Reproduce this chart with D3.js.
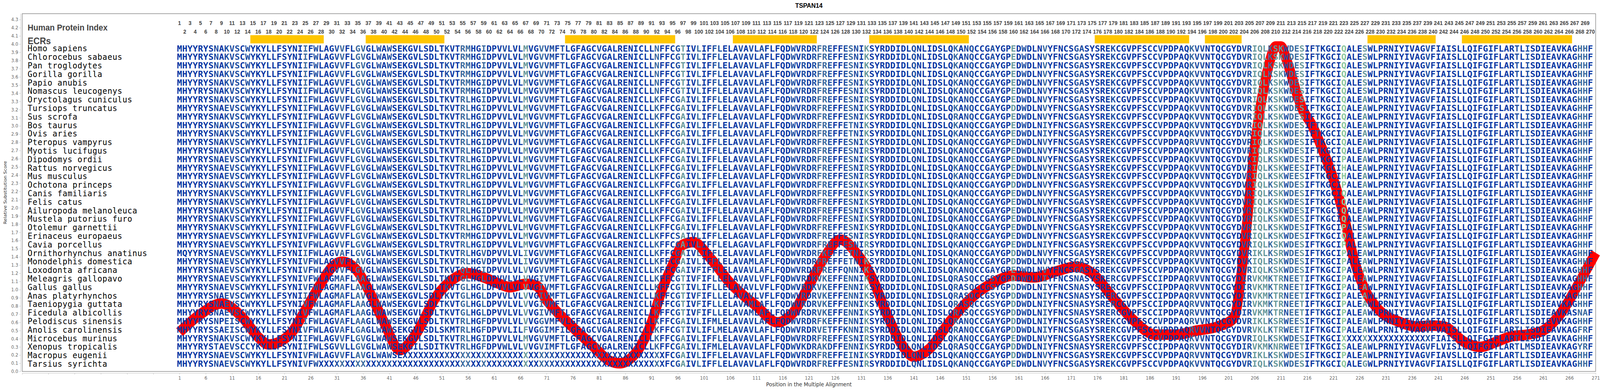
<!DOCTYPE html>
<html>
<head>
<meta charset="utf-8">
<script src="https://cdn.jsdelivr.net/npm/d3@7"></script>
<style>
    html, body { margin: 0; padding: 0; background: #ffffff; overflow: hidden; }
</style>
</head>
<body>
<div id="chart-container"></div>
<script>
/*
    TSPAN14 substitution score over the multiple alignment
 */

var species_names = [
    "Homo sapiens", "Chlorocebus sabaeus", "Pan troglodytes", "Gorilla gorilla",
    "Papio anubis", "Nomascus leucogenys", "Oryctolagus cuniculus", "Tursiops truncatus",
    "Sus scrofa", "Bos taurus", "Ovis aries", "Pteropus vampyrus", "Myotis lucifugus",
    "Dipodomys ordii", "Rattus norvegicus", "Mus musculus", "Ochotona princeps",
    "Canis familiaris", "Felis catus", "Ailuropoda melanoleuca", "Mustela putorius furo",
    "Otolemur garnettii", "Erinaceus europaeus", "Cavia porcellus", "Ornithorhynchus anatinus",
    "Monodelphis domestica", "Loxodonta africana", "Meleagris gallopavo", "Gallus gallus",
    "Anas platyrhynchos", "Taeniopygia guttata", "Ficedula albicollis", "Pelodiscus sinensis",
    "Anolis carolinensis", "Microcebus murinus", "Xenopus tropicalis", "Macropus eugenii",
    "Tarsius syrichta"
];

// human sequence, 10 residues per chunk
var reference_seq = [
    "MHYYRYSNAK", "VSCWYKYLLF", "SYNIIFWLAG", "VVFLGVGLWA", "WSEKGVLSDL",
    "TKVTRMHGID", "PVVLVLMVGV", "VMFTLGFAGC", "VGALRENICL", "LNFFCGTIVL",
    "IFFLELAVAV", "LAFLFQDWVR", "DRFREFFESN", "IKSYRDDIDL", "QNLIDSLQKA",
    "NQCCGAYGPE", "DWDLNVYFNC", "SGASYSREKC", "GVPFSCCVPD", "PAQKVVNTQC",
    "GYDVRIQLKS", "KWDESIFTKG", "CIQALESWLP", "RNIYIVAGVF", "IAISLLQIFG",
    "IFLARTLISD", "IEAVKAGHHF"
].join("");

// differences from the human row: "posLetter" or "from-toLetter"
var bird_edits = "10E 25V 31M 32A 35A 36A 55G 56L 59L 67V 70I 92K 103L 112V 122K 123V 124K 129N 149R 151S 156S 160D 166I 172N 179R 188I 194R 204I 206V 207K 208M 210T 211R 212N 213E 215T 223P 227A";
var species_edits = [
    "", "", "", "", "", "",
    "56L 92K 97A 132R 227A",
    "10E 56L 92K 97A 160D 227A",
    "56L 92K 97A 149R 227A",
    "56L 92K 97A 129T 166I 227A",
    "56L 92K 97A 129T 166I 227A",
    "56L 92K 97A 194R 227A",
    "25V 56L 92K 97A 132R 209R 227A",
    "10E 56L 92K 97A 205K 223P 227A",
    "10E 56L 92K 97A 132R 213E 223H 227A",
    "10E 56L 92K 97A 132R 213E 223H 227A",
    "56L 92K 97A 160D 223P 227A",
    "56L 92K 97A 227A",
    "56L 92K 97A 227A",
    "56L 92K 97A 227A",
    "56L 92K 97A 227A",
    "56L 92K 97A 223P",
    "10E 25V 92K 96S 97A 108G 132R 149R 227A",
    "10E 25V 52R 56L 92K 97A 108G 132R 166I 223P 227A",
    "2Q 10E 32A 56L 59V 67I 92K 97A 124K 129T 132R 160D 194R 207K 211R 223P 227A",
    "10E 25V 35A 56L 59V 67I 92K 97A 110M 129T 160D 205K 209R 223P 227A",
    "10E 25V 55Q 56L 67V 92K 97A 100F 128Q 129N 223P 227A",
    bird_edits + " 100F",
    bird_edits,
    bird_edits + " 25I 36V 100F 122R",
    bird_edits + " 100F 110M 122R 112A",
    bird_edits + " 100F 110M 122R 112A 267S 268N 269A",
    "9P 10E 11I 32A 35A 36A 56L 59F 67V 70G 74V 81I 92K 97A 103M 124K 129N 149R 160D 166I 194R 207K 211R 213E 223P 227A 239A 256S 263V",
    "8S 10E 11I 25V 32A 36A 51S 53M 56L 59F 65I 67F 70G 71I 74I 92K 103L 104M 123V 124E 125T 128K 129N 132R 149R 160D 166I 179R 194R 206V 207K 210T 211R 213E 215T 223P 227A 241V 268F 269R",
    "56L 92K 97A 132R 223-239X",
    "8T 10E 14C 29S 33L 46I 50I 56L 59F 63W 67V 71I 92K 97A 103M 120K 123A 124K 125D 129N 149R 151S 160D 166I 172N 179R 188I 194R 204I 206V 207K 208M 210N 211R 213E 215T 223S 227A 241L 242V 245I 252Y 258M 268Y 269R",
    "10E 25V 35A 44-93X 97A 129I 160D 194R 207K 223P 227A 243V",
    "10E 25V 28-93X 97A 132R 227G"
];

// conservation class of each alignment column (0 = conserved ... 4 = most variable)
var column_level = [
    "0000000101", "1101000000", "0000201000", "1200220010", "1000000000",
    "0100220020", "0010003002", "1101000000", "1000000000", "0200013002",
    "0011000101", "0100000101", "0122100121", "0300000000", "1000000020",
    "1100010003", "0100020000", "0110000010", "0000000100", "0002110000",
    "0001133323", "3122300100", "0040003000", "0000000010", "0000000000",
    "0000010100", "0000000220"
].join("");

var ecr_ranges = [
    [15, 28], [37, 51], [75, 95], [107, 122], [133, 151],
    [176, 193], [197, 203], [228, 240], [246, 266]
];

var score_positions = [
    1, 5, 9, 13, 16, 18, 22, 25, 28, 30, 32, 35, 37, 40, 43, 46, 50, 53, 56, 59,
    62, 64, 67, 69, 71, 75, 80, 83, 85, 87, 89, 91, 93, 95, 97, 99, 102, 106, 111, 115,
    118, 121, 124, 127, 130, 133, 136, 139, 141, 144, 148, 152, 156, 160, 164, 168, 172, 175, 179, 183,
    187, 191, 195, 199, 202, 204, 206, 207, 208, 209, 210, 211, 212, 213, 214, 215, 217, 219, 221, 223,
    225, 227, 229, 231, 233, 237, 240, 242, 246, 249, 252, 255, 258, 261, 264, 268, 271
];
var score_values = [
    0.48, 0.70, 0.83, 0.66, 0.42, 0.33, 0.45, 0.75, 1.08, 1.27, 1.34, 1.22, 1.00, 0.60, 0.26, 0.45, 0.92, 1.12, 1.20, 1.15,
    1.07, 1.03, 1.07, 1.05, 0.87, 0.60, 0.30, 0.13, 0.10, 0.16, 0.32, 0.60, 1.00, 1.30, 1.55, 1.58, 1.40, 1.08, 0.80, 0.60,
    0.72, 1.05, 1.40, 1.61, 1.45, 1.15, 0.68, 0.30, 0.18, 0.28, 0.62, 0.90, 1.08, 1.17, 1.15, 1.22, 1.28, 1.20, 0.90, 0.62,
    0.45, 0.45, 0.50, 0.55, 0.65, 1.50, 2.75, 3.20, 3.55, 3.82, 3.97, 3.97, 3.82, 3.62, 3.40, 3.22, 3.00, 2.70, 2.35, 1.90,
    1.35, 1.00, 0.80, 0.68, 0.62, 0.55, 0.56, 0.55, 0.36, 0.30, 0.36, 0.43, 0.45, 0.50, 0.68, 1.10, 1.45
];

var level_colors = ["#0535a3", "#1c4ea2", "#3a6a9e", "#67989b", "#8ac69b"];

var svg_size = {
    'width': 4403,
    'height': 1000
};

var plot_box = {
    'left': 61,
    'right': 4391,
    'top': 35,
    'bottom': 950
};

// the drawing is laid out in a 4403x1000 box and stretched to the window
var svg = d3.select("#chart-container")
    .append("svg")
    .attr('viewBox', '0 0 ' + svg_size.width + ' ' + svg_size.height)
    .attr('preserveAspectRatio', 'none')
    .style('width', '100vw')
    .style('height', '100vh')
    .style('display', 'block');

var x_scale = d3.scaleLinear()
    .domain([-29, 271])
    .range([plot_box.left, plot_box.right]);

var y_scale = d3.scaleLinear()
    .domain([0, 4.3])
    .range([950, 50]);

var row_scale = d3.scaleLinear()
    .domain([0, species_names.length - 1])
    .range([131.5, 938]);

// axes
var x_axis = d3.axisBottom(x_scale)
    .tickValues(d3.range(-29, 272, 5))
    .tickFormat(function(d){ return d >= 1 ? d : ""; })
    .tickSize(4)
    .tickSizeOuter(0)
    .tickPadding(4);

var x_axis_group = svg.append("g")
    .attr('transform', 'translate(0,' + (plot_box.bottom + 4) + ')')
    .call(x_axis);

var y_axis = d3.axisLeft(y_scale)
    .tickValues(d3.range(0, 44).map(function(i){ return i / 10; }))
    .tickFormat(d3.format(".1f"))
    .tickSize(4)
    .tickSizeOuter(0)
    .tickPadding(3);

var y_axis_group = svg.append("g")
    .attr('transform', 'translate(' + (plot_box.left - 4) + ',0)')
    .call(y_axis);

[x_axis_group, y_axis_group].forEach(function(g){
    g.selectAll('path, line').style('stroke', '#c0c0c0');
    g.selectAll('text')
        .style('fill', '#666')
        .style('font-family', '"DejaVu Sans", sans-serif')
        .style('font-size', '12px');
});
y_axis_group.select('.domain').attr('d', 'M0,' + plot_box.top + 'V' + plot_box.bottom);

svg.append('rect')
    .attr('x', plot_box.left)
    .attr('y', plot_box.top)
    .attr('width', plot_box.right - plot_box.left)
    .attr('height', plot_box.bottom - plot_box.top)
    .style('fill', 'none')
    .style('stroke', '#8a8a8a')
    .style('stroke-width', '1.5px');

// titles
svg.append('text')
    .attr('x', (plot_box.left + plot_box.right) / 2)
    .attr('y', 20)
    .attr('text-anchor', 'middle')
    .style('font-family', '"Liberation Sans", Arial, sans-serif')
    .style('font-weight', 'bold')
    .style('font-size', '17px')
    .text('TSPAN14');

svg.append('text')
    .attr('x', (plot_box.left + plot_box.right) / 2)
    .attr('y', 988)
    .attr('text-anchor', 'middle')
    .style('font-family', '"DejaVu Sans", sans-serif')
    .style('font-size', '14px')
    .style('fill', '#333')
    .text('Position in the Multiple Alignment');

svg.append('text')
    .attr('transform', 'translate(14,' + ((plot_box.top + plot_box.bottom) / 2) + ') rotate(-90)')
    .attr('text-anchor', 'middle')
    .attr('dominant-baseline', 'central')
    .style('font-family', '"DejaVu Sans", sans-serif')
    .style('font-size', '12px')
    .style('fill', '#333')
    .text('Relative Substitution Score');

// header labels
svg.append('text')
    .attr('x', 76)
    .attr('y', 78)
    .style('font-family', '"Liberation Sans", Arial, sans-serif')
    .style('font-weight', 'bold')
    .style('font-size', '22px')
    .style('fill', '#444')
    .text('Human Protein Index');

svg.append('text')
    .attr('x', 76)
    .attr('y', 113)
    .style('font-family', '"Liberation Sans", Arial, sans-serif')
    .style('font-weight', 'bold')
    .style('font-size', '24px')
    .style('fill', '#444')
    .text('ECRs');

// residue numbers, odd on the top line, even below
svg.append('g')
    .selectAll('text')
    .data(d3.range(1, reference_seq.length + 1))
    .enter()
    .append('text')
    .attr('x', function(d){ return x_scale(d); })
    .attr('y', function(d){ return d % 2 === 1 ? 64 : 86; })
    .attr('text-anchor', 'middle')
    .style('font-family', '"Liberation Sans", Arial, sans-serif')
    .style('font-weight', 'bold')
    .style('font-size', '14.5px')
    .style('fill', '#444')
    .text(function(d){ return d; });

// ECR bars
svg.append('g')
    .selectAll('rect')
    .data(ecr_ranges)
    .enter()
    .append('rect')
    .attr('x', function(d){ return x_scale(d[0] - 0.5); })
    .attr('width', function(d){ return x_scale(d[1] + 0.5) - x_scale(d[0] - 0.5); })
    .attr('y', 90)
    .attr('height', 21)
    .style('fill', '#ffc600');

// species names
svg.append('g')
    .selectAll('text')
    .data(species_names)
    .enter()
    .append('text')
    .attr('x', 76)
    .attr('y', function(d, i){ return row_scale(i); })
    .style('font-family', '"DejaVu Sans Mono", monospace')
    .style('font-size', '21.5px')
    .style('letter-spacing', '0.8px')
    .style('fill', '#000')
    .text(function(d){ return d; });

// substitution score line
var score_data = score_positions.map(function(p, i){
    return {'pos': p, 'val': score_values[i]};
});

var score_line = d3.line()
    .x(function(d){ return x_scale(d.pos); })
    .y(function(d){ return y_scale(d.val); })
    .curve(d3.curveMonotoneX);

svg.append('path')
    .datum(score_data)
    .attr('d', score_line)
    .style('fill', 'none')
    .style('stroke', '#ff0000')
    .style('stroke-width', '27px')
    .style('stroke-linejoin', 'round');

// alignment letters
function build_sequence(edits){
    var seq = reference_seq.split('');
    edits.split(' ').filter(Boolean).forEach(function(e){
        var letter = e.slice(-1);
        var body = e.slice(0, -1);
        if(body.indexOf('-') >= 0){
            var parts = body.split('-');
            for(var i = +parts[0]; i <= +parts[1]; i++){
                seq[i - 1] = letter;
            }
        }
        else{
            seq[+body - 1] = letter;
        }
    });
    return seq;
}

var seq_rows = svg.append('g')
    .style('font-family', '"DejaVu Sans Mono", monospace')
    .style('font-weight', 'bold')
    .style('font-size', '21px')
    .selectAll('.seq-row')
    .data(species_edits)
    .enter()
    .append('g')
    .classed('seq-row', true)
    .attr('transform', function(d, k){
        return 'translate(0,' + row_scale(k) + ')';
    });

seq_rows.selectAll('text')
    .data(function(d){ return build_sequence(d); })
    .enter()
    .append('text')
    .attr('transform', function(d, i){
        return 'translate(' + x_scale(i + 1) + ',0) scale(1.12,1)';
    })
    .attr('text-anchor', 'middle')
    .style('fill', function(d, i){ return level_colors[+column_level[i]]; })
    .text(function(d){ return d; });
</script>
</body>
</html>
